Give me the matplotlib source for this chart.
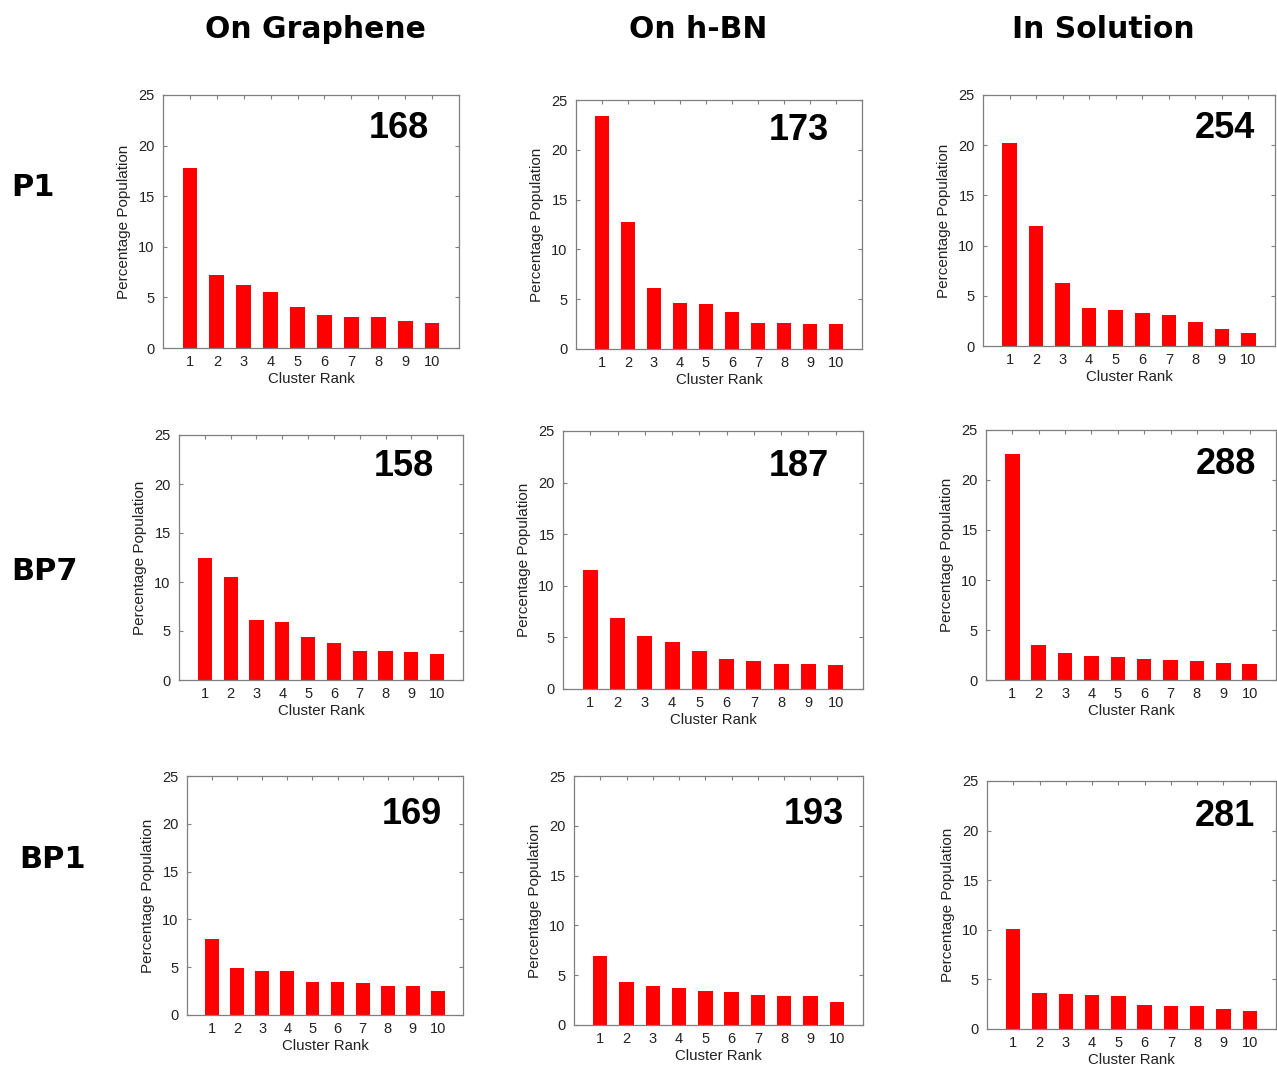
import matplotlib
matplotlib.use('Agg')
import matplotlib.pyplot as plt

# cluster ranks shown on the x axis
rangos = [1, 2, 3, 4, 5, 6, 7, 8, 9, 10]

# percentage population per cluster
p1_grafeno = [17.8, 7.25, 6.2, 5.5, 4.1, 3.25, 3.05, 3.05, 2.65, 2.5]
p1_hbn = [23.4, 12.8, 6.1, 4.6, 4.5, 3.7, 2.65, 2.6, 2.5, 2.5]
p1_solucion = [20.2, 12.0, 6.3, 3.75, 3.55, 3.25, 3.05, 2.35, 1.65, 1.3]
bp7_grafeno = [12.5, 10.5, 6.1, 5.9, 4.4, 3.75, 3.0, 2.95, 2.85, 2.7]
bp7_hbn = [11.5, 6.9, 5.1, 4.55, 3.7, 2.9, 2.7, 2.45, 2.45, 2.3]
bp7_solucion = [22.6, 3.5, 2.7, 2.4, 2.3, 2.15, 2.0, 1.95, 1.7, 1.6]
bp1_grafeno = [7.9, 4.95, 4.6, 4.6, 3.45, 3.4, 3.3, 3.05, 3.05, 2.55]
bp1_hbn = [6.95, 4.35, 3.9, 3.75, 3.4, 3.3, 3.0, 2.95, 2.95, 2.3]
bp1_solucion = [10.1, 3.6, 3.5, 3.4, 3.35, 2.4, 2.35, 2.3, 2.0, 1.85]

# number printed in each panel
conteos = [168, 173, 254, 158, 187, 288, 169, 193, 281]

columnas = ['On Graphene', 'On h-BN', 'In Solution']
filas = ['P1', 'BP7', 'BP1']

datos = [p1_grafeno, p1_hbn, p1_solucion,
         bp7_grafeno, bp7_hbn, bp7_solucion,
         bp1_grafeno, bp1_hbn, bp1_solucion]

W, H = 1277, 1070
fig = plt.figure(figsize=(W / 100, H / 100), dpi=100)
plt.rcParams['font.family'] = ['Liberation Sans', 'DejaVu Sans']

# panel boxes in pixels: left, top, right, bottom
cajas = [(163, 95, 459, 348), (576, 100, 862, 349), (983, 95, 1275, 346),
         (179, 435, 463, 680), (563, 431, 863, 689), (986, 430, 1276, 680),
         (187, 776, 463, 1015), (574, 776, 863, 1025), (987, 781, 1276, 1029)]
# where the big numbers sit (pixel centres)
pos_num = [(399, 128), (799, 131), (1225, 128), (404, 466), (799, 467),
           (1226, 465), (412, 815), (814, 815), (1225, 817)]

gris = '#7f7f7f'
for i in range(9):
    l, t, r, b = cajas[i]
    ax = fig.add_axes([l / W, 1 - b / H, (r - l) / W, (b - t) / H])
    ax.bar(rangos, datos[i], color='#ff0000', width=0.55)
    ax.set_xlim(0, 11)
    ax.set_ylim(0, 25)
    ax.set_xticks(rangos)
    ax.set_yticks([0, 5, 10, 15, 20, 25])
    ax.tick_params(direction='in', length=3, top=True, right=True,
                   color=gris, labelsize=10.5, labelcolor='#222222', pad=6)
    ax.tick_params(axis='x', bottom=False, top=True, pad=5)
    for s in ax.spines.values():
        s.set_color(gris)
        s.set_linewidth(0.9)
    ax.set_xlabel('Cluster Rank', fontsize=10.8, labelpad=2, color='#222222')
    ax.set_ylabel('Percentage Population', fontsize=11, labelpad=5, color='#222222')
    x, y = pos_num[i]
    fig.text(x / W, 1 - y / H, str(conteos[i]), fontsize=26, fontweight='bold',
             ha='center', va='center')

# column headers and row labels
for nombre, x in zip(columnas, [315, 698, 1103]):
    fig.text(x / W, 1 - 29 / H, nombre, fontsize=21.5, fontweight='bold',
             ha='center', va='center', family=['DejaVu Sans'])
for nombre, (x, y) in zip(filas, [(33, 187), (44, 572), (53, 860)]):
    fig.text(x / W, 1 - y / H, nombre, fontsize=22, fontweight='bold',
             ha='center', va='center', family=['DejaVu Sans'])

plt.savefig('out.png', dpi=100)
